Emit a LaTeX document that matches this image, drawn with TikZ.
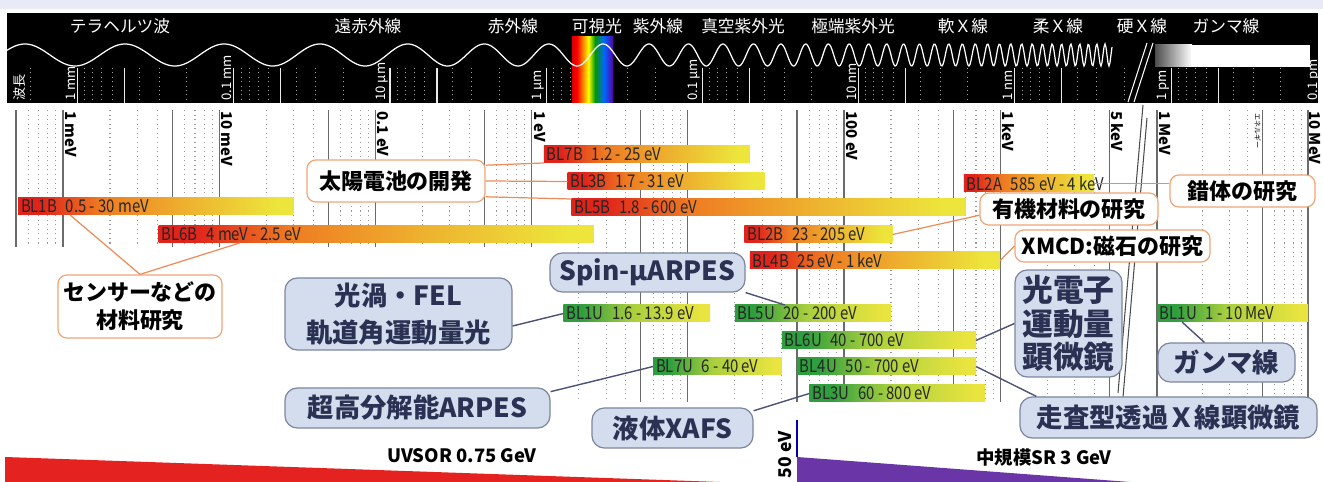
\documentclass[tikz,border=0pt]{standalone}
\usepackage{fontspec}
\setmainfont{Noto Sans CJK JP}
\newfontfamily\barfont{Noto Sans CJK JP}[FakeStretch=0.85]
\usetikzlibrary{calc}

\definecolor{lavender}{HTML}{E8EAF6}
\definecolor{barred}{HTML}{E0231B}
\definecolor{barorange}{HTML}{EE7B22}
\definecolor{baryellow}{HTML}{EDE53B}
\definecolor{bargreen}{HTML}{2E9E3E}
\definecolor{barlime}{HTML}{A9CF3E}
\definecolor{baryeltwo}{HTML}{E9E43F}
\definecolor{orline}{HTML}{EC8C5A}
\definecolor{orborder}{HTML}{F0A577}
\definecolor{blfill}{HTML}{D3DDEE}
\definecolor{blborder}{HTML}{7C869F}
\definecolor{bltext}{HTML}{2B3153}
\definecolor{blline}{HTML}{4B5275}
\definecolor{uvred}{HTML}{E42320}
\definecolor{srpurple}{HTML}{6A35A6}

\pgfdeclarehorizontalshading{spectrum}{100bp}{color(0bp)=(red!85!black); color(25bp)=(red!85!black); color(31bp)=(red); color(38bp)=(orange); color(45bp)=(yellow); color(53bp)=(green!60!black); color(64bp)=(cyan!40!blue); color(75bp)=(violet!70!blue); color(100bp)=(violet!70!blue)}
\pgfdeclarehorizontalshading{orshade}{100bp}{color(0bp)=(barred); color(25bp)=(barred); color(29bp)=(barred); color(40bp)=(barorange); color(55bp)=(barorange!50!baryellow); color(72bp)=(baryellow); color(100bp)=(baryellow)}
\pgfdeclarehorizontalshading{grshade}{100bp}{color(0bp)=(bargreen); color(25bp)=(bargreen); color(31bp)=(bargreen); color(48bp)=(barlime); color(72bp)=(baryeltwo); color(100bp)=(baryeltwo)}

% x position (px) of a photon energy given in eV
\pgfmathdeclarefunction{epos}{1}{\pgfmathparse{63+156.2*(log10(#1)+3)}}

\newcommand\beamline[6]{%
  \pgfmathsetmacro\bla{#2}\pgfmathsetmacro\blb{#3}%
  \node[#6, minimum width=(\blb-\bla)*0.02cm, anchor=north west] (#1) at (\bla,#4) {};
  \node[barlabel] at (#1.west) {#5};}

\begin{document}
\begin{tikzpicture}[x=0.02cm, y=-0.02cm,
  emajor/.style={draw=black!58, line width=0.75pt},
  eminor/.style={draw=black!40, line width=0.6pt, dotted},
  wmajor/.style={draw=black!8, line width=0.6pt},
  wminor/.style={draw=black!35, line width=0.5pt, dotted},
  bandlabel/.style={text=white, font=\fontsize{9.5}{10}\selectfont, inner sep=0pt},
  wlabel/.style={text=white, font=\fontsize{7.5}{8}\selectfont, rotate=90, anchor=south west, inner sep=0pt},
  elabel/.style={font=\bfseries\fontsize{8.5}{9}\selectfont, rotate=-90, anchor=south west, inner sep=0pt},
  orangebar/.style={shade, shading=orshade, minimum height=0.34cm, inner sep=0pt, outer sep=0pt},
  greenbar/.style={shade, shading=grshade, minimum height=0.34cm, inner sep=0pt, outer sep=0pt},
  barlabel/.style={anchor=west, inner sep=1.5pt, font=\barfont\fontsize{10}{10}\selectfont, text=black!85},
  wh/.style 2 args={minimum width=#1*0.02cm, minimum height=#2*0.02cm},
  orbox/.style={draw=orborder, fill=white, rounded corners=5pt, line width=0.7pt, align=center, inner sep=0pt, font=\bfseries\fontsize{12.5}{16}\selectfont},
  blbox/.style={draw=blborder, fill=blfill, rounded corners=7pt, line width=0.7pt, align=center, inner sep=0pt, text=bltext, font=\bfseries\fontsize{15}{21}\selectfont},
  olink/.style={draw=orline, line width=0.7pt},
  blink/.style={draw=blline, line width=0.8pt}]
\useasboundingbox (0,0) rectangle (1323,482);
\fill[lavender] (0,0) rectangle (1323,9);

% wavelength band
\fill[black] (7,13) rectangle (1318,103);
\foreach \n in {0,...,7}{
  \foreach \k in {1,...,9}{
    \pgfmathsetmacro\xx{77.6+156.2*(\n-log10(\k))}
    \pgfmathtruncatemacro\ok{and(\xx>8,\xx<1128)}
    \pgfmathtruncatemacro\ismaj{or(\k==1,\k==5)}
    \ifnum\ok=1
      \ifnum\ismaj=1 \draw[wmajor] (\xx,68) -- (\xx,103);
      \else \draw[wminor] (\xx,68) -- (\xx,103); \fi
    \fi}}
\foreach \k in {2,...,10}{
  \pgfmathsetmacro\xx{1171.6+156.2*(1-log10(\k))}
  \pgfmathtruncatemacro\ismaj{or(\k==5,\k==10)}
  \ifnum\ismaj=1 \draw[wmajor] (\xx,68) -- (\xx,103);
  \else \draw[wminor] (\xx,68) -- (\xx,103); \fi}
\shade[shading=spectrum] (572,37) rectangle (613,103);
\shade[left color=black!70, right color=white] (1155,45) rectangle (1192,67);
\fill[white] (1191,45) rectangle (1310,67);
\draw[white, line width=0.7pt] plot[domain=7:1112, samples=1106]
  (\x, {55-11*cos(360*(11*(\x/1100)+24.64*pow(\x/1100,5))-450)});
\draw[white, line width=0.6pt] (1147,43) -- (1128,102) (1153,43) -- (1134,102);

\foreach \xx/\txt in {120/テラヘルツ波, 368/遠赤外線, 513/赤外線, 597/可視光, 658/紫外線,
  743/真空紫外光, 853/極端紫外光, 963/軟Ｘ線, 1058/柔Ｘ線, 1142/硬Ｘ線, 1226/ガンマ線}
  \node[bandlabel] at (\xx,26) {\txt};
\node[wlabel] at (26,101) {波長};
\foreach \xx/\txt in {77.6/1 mm, 233.8/0.1 mm, 390/10 μm, 546.2/1 μm, 702.4/0.1 μm,
  858.6/10 nm, 1014.8/1 nm, 1171.6/1 pm, 1322.5/0.1 pm}
  \node[wlabel] at ({\xx-2},101) {\txt};

% energy scale
\foreach \d in {-1,...,6}{
  \foreach \k in {1,...,9}{
    \pgfmathsetmacro\xx{63+156.2*(\d+log10(\k))}
    \pgfmathsetmacro\yb{\xx<545 ? 247 : 402}
    \pgfmathtruncatemacro\ok{and(\xx>10,\xx<1115)}
    \pgfmathtruncatemacro\ismaj{or(\k==1,\k==5)}
    \ifnum\ok=1
      \ifnum\ismaj=1 \draw[emajor] (\xx,110) -- (\xx,\yb);
      \else \draw[eminor] (\xx,110) -- (\xx,\yb); \fi
    \fi}}
\foreach \k in {1,...,10}{
  \pgfmathsetmacro\xx{1157+151*log10(\k)}
  \pgfmathtruncatemacro\ismaj{or(or(\k==1,\k==5),\k==10)}
  \ifnum\ismaj=1 \draw[emajor] (\xx,110) -- (\xx,402);
  \else \draw[eminor] (\xx,110) -- (\xx,402); \fi}
\draw[black!70, line width=0.6pt] (1143,105) -- (1118,393) (1147,118) -- (1123,397);
\foreach \xx/\txt in {63/1 meV, 219.2/10 meV, 375.4/0.1 eV, 531.6/1 eV, 844/100 eV,
  1000.2/1 keV, 1109.4/5 keV, 1157/1 MeV, 1307/10 MeV}
  \node[elabel] at ({\xx+2},111) {\txt};
\node[elabel, font=\fontsize{4}{4}\selectfont] at (1254,113) {エネルギー};

% beamlines
\beamline{bl7b}{epos(1.2)}{epos(25)}{146}{BL7B\enspace 1.2 - 25 eV}{orangebar}
\beamline{bl3b}{epos(1.7)}{epos(31)}{173}{BL3B\enspace 1.7 - 31 eV}{orangebar}
\beamline{bl5b}{epos(1.8)}{epos(600)}{199}{BL5B\enspace 1.8 - 600 eV}{orangebar}
\beamline{bl1b}{epos(0.0005)}{epos(0.03)}{198}{BL1B\enspace 0.5 - 30 meV}{orangebar}
\beamline{bl6b}{epos(0.004)}{epos(2.5)}{226}{BL6B\enspace 4 meV - 2.5 eV}{orangebar}
\beamline{bl2b}{epos(23)}{epos(205)}{226}{BL2B\enspace 23 - 205 eV}{orangebar}
\beamline{bl4b}{epos(25)}{epos(1000)}{252}{BL4B\enspace 25 eV - 1 keV}{orangebar}
\beamline{bl2a}{epos(585)}{epos(4000)}{175}{BL2A\enspace 585 eV - 4 keV}{orangebar}
\beamline{bl1u}{epos(1.6)}{epos(13.9)}{305}{BL1U\enspace 1.6 - 13.9 eV}{greenbar}
\beamline{bl5u}{epos(20)}{epos(200)}{305}{BL5U\enspace 20 - 200 eV}{greenbar}
\beamline{bl6u}{epos(40)}{epos(700)}{332}{BL6U\enspace 40 - 700 eV}{greenbar}
\beamline{bl7u}{epos(6)}{epos(40)}{358}{BL7U\enspace 6 - 40 eV}{greenbar}
\beamline{bl4u}{epos(50)}{epos(700)}{358}{BL4U\enspace 50 - 700 eV}{greenbar}
\beamline{bl3u}{epos(60)}{epos(800)}{385}{BL3U\enspace 60 - 800 eV}{greenbar}
\beamline{bl1ug}{1157}{1308}{305}{BL1U\enspace 1 - 10 MeV}{greenbar}

% research topics
\node[orbox, wh={178}{42}] (solar) at (396,181) {太陽電池の開発};
\node[orbox, wh={164}{63}] (sensor) at (140,306.5) {センサーなどの\\材料研究};
\node[orbox, wh={145}{32}] (sakutai) at (1242.5,191) {錯体の研究};
\node[orbox, wh={178}{32}] (yuki) at (1069,209) {有機材料の研究};
\node[orbox, wh={195}{32}] (xmcd) at (1112.5,246) {XMCD:磁石の研究};
\draw[olink] (solar.10) -- (bl7b.south west);
\draw[olink] (solar.east) -- (bl3b.west);
\draw[olink] (solar.-10) -- (bl5b.north west);
\draw[olink] (sensor.north) -- ($(bl1b.south west)+(52,0)$);
\draw[olink] (sensor.north) -- ($(bl6b.south west)+(81,0)$);
\draw[olink] (bl2a.east) -- (bl2a.east -| sakutai.west);
\draw[olink] (yuki.184) -- (bl2b.east);
\draw[olink] (xmcd.west) -- (bl4b.east);

\node[blbox, wh={227}{72}] (kouka) at (398.5,314) {光渦・FEL\\軌道角運動量光};
\node[blbox, wh={195}{39}] (spin) at (647.5,272.5) {Spin-μARPES};
\node[blbox, wh={265}{40}] (chokou) at (417.5,408) {超高分解能ARPES};
\node[blbox, wh={161}{40}] (ekitai) at (672.5,428) {液体XAFS};
\node[blbox, wh={107}{107}, font=\bfseries\fontsize{17.5}{19}\selectfont] (kodenshi) at (1068.5,323.5) {光電子\\運動量\\顕微鏡};
\node[blbox, wh={137}{39}] (gamma) at (1226.5,362.5) {ガンマ線};
\node[blbox, wh={297}{41}] (stxm) at (1168.5,417.5) {走査型透過Ｘ線顕微鏡};
\draw[blink] (kouka.-6) -- (bl1u.west);
\draw[blink] (spin.south east) -- ($(bl5u.north west)+(50,0)$);
\draw[blink] (chokou.7) -- (bl7u.west);
\draw[blink] (ekitai.12) -- (bl3u.west);
\draw[blink] (kodenshi.west) -- (bl6u.east);
\draw[blink] ($(stxm.north west)+(17,0)$) -- (bl4u.east);
\draw[blink] ($(gamma.north west)+(47,0)$) -- ($(bl1ug.south west)+(25,0)$);

% rings
\fill[uvred] (5,457) -- (720,482) -- (5,482) -- cycle;
\fill[srpurple] (797,457) -- (1130,482) -- (797,482) -- cycle;
\draw[blue!70!black, line width=0.6pt] (797,420) -- (797,457);
\node[font=\bfseries\fontsize{10.5}{12}\selectfont] (uvsor) at (462,456) {UVSOR 0.75 GeV};
\node[font=\bfseries\fontsize{10.5}{12}\selectfont] (midsr) at (1044,458) {中規模SR 3 GeV};
\node[rotate=90, font=\bfseries\fontsize{10}{12}\selectfont] (fifty) at (785,455) {50 eV};
\end{tikzpicture}
\end{document}
